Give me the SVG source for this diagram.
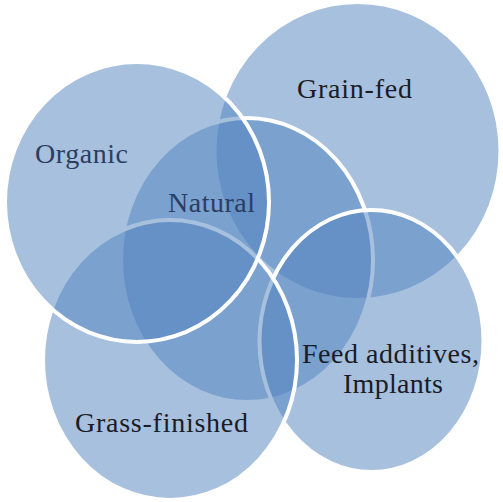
<svg xmlns="http://www.w3.org/2000/svg" width="503" height="502" viewBox="0 0 503 502">
<style>
.c{fill:#4F81BD;fill-opacity:0.5;stroke:#ffffff;stroke-width:4}
.t{font-family:"Liberation Serif","Times New Roman",serif;font-size:28px}
.dk{fill:#1a1c26}
.bl{fill:#2b3e60}
</style>
<rect width="503" height="502" fill="#ffffff"/>
<g id="grain-fed"><ellipse class="c" cx="357.5" cy="151" rx="143" ry="149"/><text class="t dk" x="297" y="98" textLength="115" lengthAdjust="spacing">Grain-fed</text></g>
<g id="natural"><ellipse class="c" cx="247" cy="260" rx="126" ry="142"/></g>
<g id="feed-additives"><ellipse class="c" cx="371.5" cy="341" rx="112" ry="131"/><text class="t dk" x="302" y="363" textLength="177" lengthAdjust="spacing">Feed additives,</text><text class="t dk" x="343" y="393" textLength="100" lengthAdjust="spacing">Implants</text></g>
<g id="grass-finished"><ellipse class="c" cx="170" cy="360" rx="127" ry="140"/><text class="t dk" x="75" y="432" textLength="173" lengthAdjust="spacing">Grass-finished</text></g>
<g id="organic"><ellipse class="c" cx="137" cy="202" rx="132" ry="140"/><text class="t bl" x="35" y="163" textLength="93" lengthAdjust="spacing">Organic</text></g>
<g id="natural-label"><text class="t bl" x="168" y="212" textLength="87" lengthAdjust="spacing">Natural</text></g>
<g id="connectors"></g>
</svg>
